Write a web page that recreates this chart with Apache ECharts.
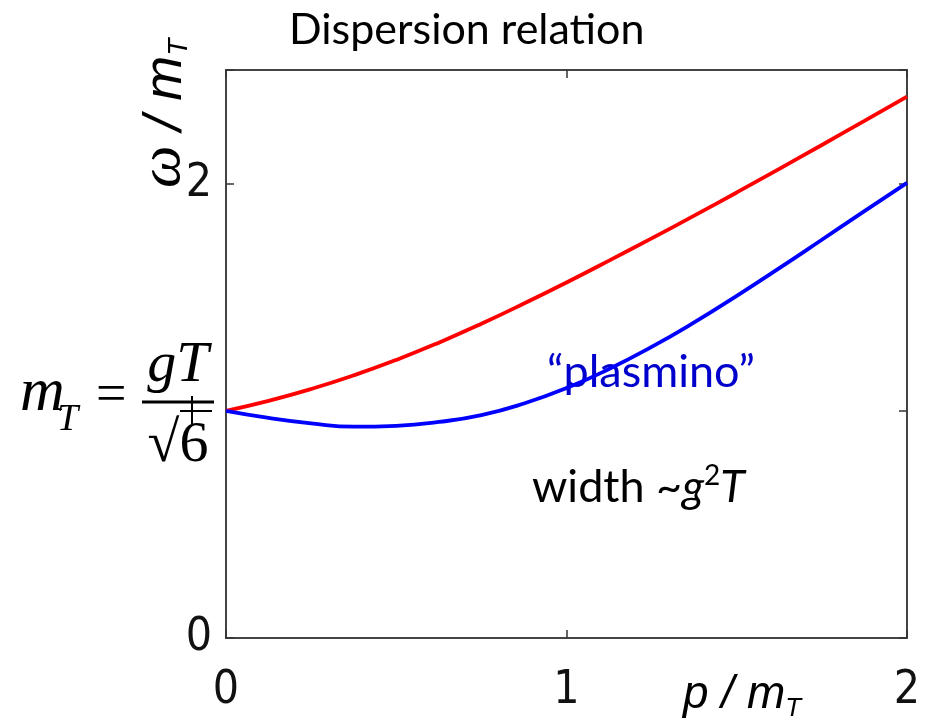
<!DOCTYPE html>
<html>
<head>
<meta charset="utf-8">
<script src="https://cdn.jsdelivr.net/npm/echarts@6/dist/echarts.min.js"></script>
<style>
    html, body { margin: 0; padding: 0; background: #fff; }
    #main { width: 926px; height: 721px; }
</style>
</head>
<body>
<div id="main"></div>
<script>
    // p / m_T
    var pValues = [0, 0.125, 0.25, 0.375, 0.5, 0.625, 0.75, 0.875, 1, 1.125, 1.25, 1.375, 1.5, 1.625, 1.75, 1.875, 2];
    // omega / m_T, normal branch (red)
    var normalBranch = [1.0, 1.044, 1.096, 1.156, 1.224, 1.300, 1.383, 1.472, 1.565, 1.661, 1.759, 1.859, 1.961, 2.065, 2.170, 2.276, 2.383];
    // omega / m_T, plasmino branch (blue)
    var plasminoBranch = [1.0, 0.969, 0.945, 0.930, 0.934, 0.951, 0.981, 1.032, 1.100, 1.184, 1.281, 1.389, 1.506, 1.628, 1.753, 1.879, 2.003];
    var xTickLabels = ['0', '1', '2'];
    var yTickLabels = ['0', '2'];

    var tickFont = '"Liberation Sans Narrow", "DejaVu Sans Condensed", sans-serif';
    var serif = '"Liberation Serif", "DejaVu Serif", serif';

    function pairs(ys) {
        return pValues.map(function (p, i) { return [p, ys[i]]; });
    }

    var frame = { show: true, onZero: false, lineStyle: { color: '#444', width: 2 } };
    var ticks = { show: true, inside: true, length: 8, lineStyle: { color: '#333', width: 1.5 } };

    var chart = echarts.init(document.getElementById('main'));
    var option = {
        animation: false,
        backgroundColor: '#fff',
        title: {
            text: 'Dispersion relation',
            left: 284,
            top: 4,
            textStyle: { fontFamily: 'Lato', fontWeight: 'normal', fontSize: 43, color: '#000' }
        },
        grid: { left: 226, right: 19, top: 70, bottom: 83 },
        xAxis: [
            {
                type: 'value', min: 0, max: 2, interval: 1, position: 'bottom',
                axisLine: frame, axisTick: ticks, splitLine: { show: false },
                axisLabel: {
                    margin: 30, fontSize: 46, fontFamily: tickFont, color: '#111',
                    formatter: function (v) { return xTickLabels.indexOf(String(v)) >= 0 ? String(v) : ''; }
                }
            },
            {
                type: 'value', min: 0, max: 2, interval: 1, position: 'top',
                axisLine: frame, axisTick: ticks, splitLine: { show: false }, axisLabel: { show: false }
            }
        ],
        yAxis: [
            {
                type: 'value', min: 0, max: 2.5, interval: 1, position: 'left',
                axisLine: frame, axisTick: ticks, splitLine: { show: false },
                axisLabel: {
                    margin: 14, fontSize: 46, fontFamily: tickFont, color: '#111',
                    formatter: function (v) { return yTickLabels.indexOf(String(v)) >= 0 ? String(v) : ''; }
                }
            },
            {
                type: 'value', min: 0, max: 2.5, interval: 1, position: 'right',
                axisLine: frame, axisTick: ticks, splitLine: { show: false }, axisLabel: { show: false }
            }
        ],
        series: [
            {
                name: 'normal', type: 'line', data: pairs(normalBranch), smooth: true,
                showSymbol: false, lineStyle: { color: '#ff0000', width: 3.8 }, z: 3
            },
            {
                name: 'plasmino', type: 'line', data: pairs(plasminoBranch), smooth: true,
                showSymbol: false, lineStyle: { color: '#0000ff', width: 3.8 }, z: 4
            }
        ],
        graphic: [
            // y axis name, rotated
            {
                type: 'text', x: 193, y: 188, rotation: Math.PI / 2, z: 10,
                style: {
                    text: '{w|ω}{n| / m}{s|T}', textAlign: 'left', textVerticalAlign: 'bottom', fill: '#000',
                    rich: {
                        w: { font: 'italic 60px ' + serif, verticalAlign: 'bottom' },
                        n: { font: 'italic 54px "Liberation Sans", sans-serif', verticalAlign: 'bottom' },
                        s: { font: 'italic 28px "Liberation Sans", sans-serif', verticalAlign: 'bottom' }
                    }
                }
            },
            // x axis name
            {
                type: 'text', x: 683, y: 722, z: 10,
                style: {
                    text: '{n|p / m}{s|T}', textAlign: 'left', textVerticalAlign: 'bottom', fill: '#000',
                    rich: {
                        n: { font: 'italic 46px "Liberation Sans", sans-serif', verticalAlign: 'bottom', padding: [0, 0, 4, 0] },
                        s: { font: 'italic 26px "Liberation Sans", sans-serif', verticalAlign: 'bottom' }
                    }
                }
            },
            // m_T = gT / sqrt(6)
            { type: 'text', x: 20, y: 394, z: 10, style: { text: 'm', font: 'italic 62px ' + serif, textVerticalAlign: 'middle', fill: '#000' } },
            { type: 'text', x: 57, y: 420, z: 10, style: { text: 'T', font: 'italic 38px ' + serif, textVerticalAlign: 'middle', fill: '#000' } },
            { type: 'text', x: 96, y: 397, z: 10, style: { text: '=', font: '54px ' + serif, textVerticalAlign: 'middle', fill: '#000' } },
            { type: 'text', x: 178, y: 366, z: 10, style: { text: 'gT', font: 'italic 58px ' + serif, textAlign: 'center', textVerticalAlign: 'middle', fill: '#000' } },
            { type: 'line', z: 10, shape: { x1: 142, y1: 402, x2: 214, y2: 402 }, style: { stroke: '#000', lineWidth: 3 } },
            { type: 'line', z: 10, shape: { x1: 180, y1: 411, x2: 212, y2: 411 }, style: { stroke: '#000', lineWidth: 2 } },
            { type: 'line', z: 10, shape: { x1: 192, y1: 396, x2: 192, y2: 424 }, style: { stroke: '#000', lineWidth: 2 } },
            { type: 'text', x: 178, y: 446, z: 10, style: { text: '√6', font: '58px ' + serif, textAlign: 'center', textVerticalAlign: 'middle', fill: '#000' } },
            // annotations
            { type: 'text', x: 547, y: 372, z: 2, style: { text: '“plasmino”', font: '45px Lato', textVerticalAlign: 'middle', fill: '#0000cc' } },
            {
                type: 'text', x: 532, y: 487, z: 10,
                style: {
                    text: '{a|width ~}{i|g}{u|2}{i|T}', textVerticalAlign: 'middle', fill: '#000',
                    rich: {
                        a: { font: '45px Lato', lineHeight: 50 },
                        i: { font: 'italic 45px Lato', lineHeight: 50 },
                        u: { font: '28px Lato', verticalAlign: 'top', lineHeight: 28 }
                    }
                }
            }
        ]
    };
    chart.setOption(option);
</script>
</body>
</html>
